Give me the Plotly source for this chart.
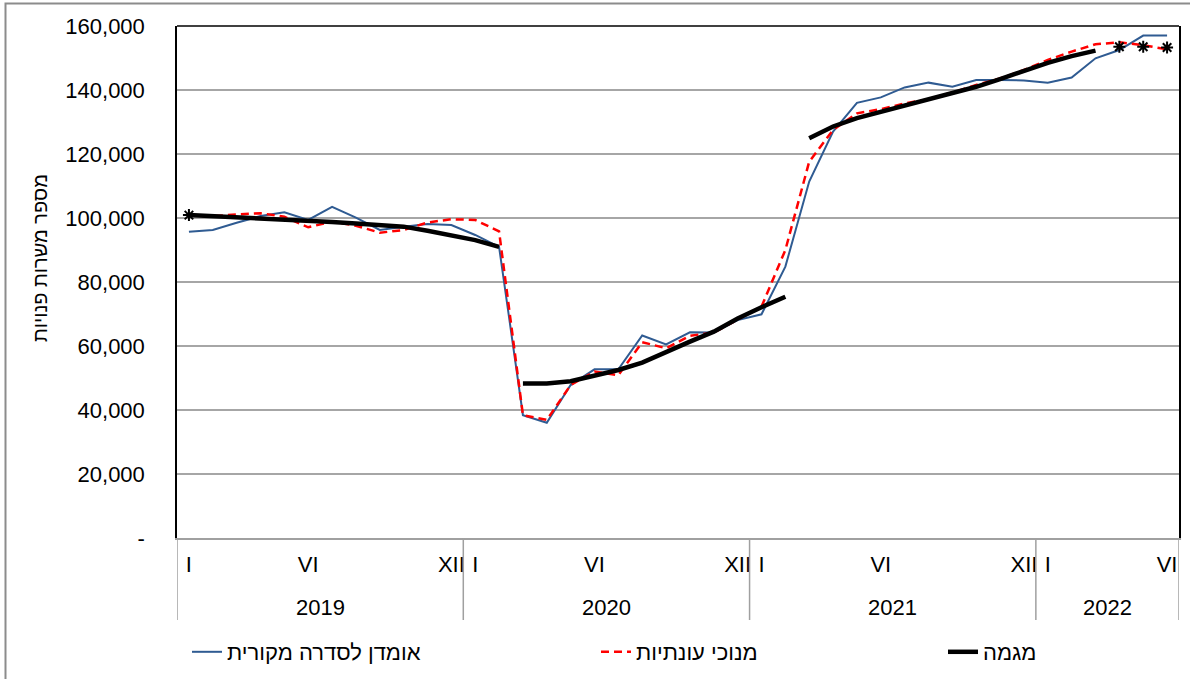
import plotly.graph_objects as go

# ---- data ----
years = ["2019", "2020", "2021", "2022"]
months_per_year = [12, 12, 12, 6]
month_names = ["I", "II", "III", "IV", "V", "VI", "VII", "VIII", "IX", "X", "XI", "XII"]
shown_months = ["I", "VI", "XII"]

original = [95700, 96250, 98500, 100600, 101800, 99400, 103500, 100100, 96250, 97300, 98100, 97800,
            94700, 91000, 38400, 36000, 47800, 52700, 52700, 63300, 60500, 64300, 64200, 68100,
            69900, 84800, 111400, 127000, 136000, 137700, 140800, 142300, 141000, 143100, 143100, 143000,
            142300, 143900, 149900, 152500, 157000, 157000]

seasonal = [100700, 100600, 101100, 101500, 100400, 97100, 98900, 97600, 95400, 96250, 98600, 99600,
            99400, 95800, 38400, 36900, 47800, 52000, 50900, 61200, 59300, 63200, 64200, 68300,
            72300, 90000, 117600, 127500, 132700, 134000, 135800, 137100, 139200, 141600, 143600, 146250,
            149400, 152000, 154300, 154900, 154000, 152700]

trend = [100900, 100600, 100200, 99900, 99600, 99300, 98750, 98300, 97800, 97300, 96000, 94700,
         93100, 91000, 48300, 48300, 49000, 50600, 52500, 54800, 57900, 61350, 64500, 68600,
         72100, 75400, 124900, 128600, 131200, 133200, 135100, 136900, 139000, 141000, 143400, 145900,
         148500, 150600, 152300, None, None, None]
trend_segment_starts = [0, 14, 26, 39]

trend_markers = [100900] + [None] * 38 + [153500, 153500, 153300]

y_ticks = [0, 20000, 40000, 60000, 80000, 100000, 120000, 140000, 160000]
y_ticktext = ["-", "20,000", "40,000", "60,000", "80,000", "100,000", "120,000", "140,000", "160,000"]

name_orig = "אומדן לסדרה מקורית"
name_sa = "מנוכי עונתיות"
name_trend = "מגמה"
y_title = "מספר משרות פנויות"

# ---- derived ----
x_idx = []
tickvals, ticktext = [], []
year_centers, year_bounds = [], [-0.5]
k = 0
for y, n in zip(years, months_per_year):
    start = k
    for m in range(n):
        x_idx.append(k)
        if month_names[m] in shown_months:
            tickvals.append(k)
            ticktext.append(month_names[m])
        k += 1
    year_centers.append((start + k - 1) / 2)
    year_bounds.append(k - 0.5)

FONT = "Liberation Sans, Arial, sans-serif"
fig = go.Figure()

fig.add_trace(go.Scatter(x=x_idx, y=original, mode="lines", name=name_orig,
                         line=dict(color="#2F5B92", width=2), legend="legend"))
fig.add_trace(go.Scatter(x=x_idx, y=seasonal, mode="lines", name=name_sa,
                         line=dict(color="#FF0000", width=2.5, dash="8px,5px"), legend="legend2"))
bounds = trend_segment_starts + [len(trend)]
for s in range(len(trend_segment_starts)):
    a, b = bounds[s], bounds[s + 1]
    fig.add_trace(go.Scatter(x=x_idx[a:b], y=trend[a:b], mode="lines", name=name_trend,
                             line=dict(color="#000000", width=4.5), legend="legend3",
                             legendgroup="trend", showlegend=(s == 0)))
fig.add_trace(go.Scatter(x=x_idx, y=trend_markers, mode="markers", showlegend=False,
                         marker=dict(symbol="asterisk-open", size=10, color="#000000",
                                     line=dict(color="#000000", width=2))))

W, H = 1190, 679
L, R, T, B = 177, 1179, 26, 538          # plot area in pixels
pw, ph = R - L, B - T

def px(sx):
    return (sx - L) / pw

def py(sy):
    return (B - sy) / ph

shapes = []
for xb in year_bounds:
    shapes.append(dict(type="line", xref="x", yref="paper", x0=xb, x1=xb, y0=0, y1=py(620),
                       line=dict(color="#A0A0A0", width=1.5)))
shapes.append(dict(type="line", xref="paper", yref="paper", x0=0, x1=1, y0=1, y1=1,
                   line=dict(color="#000000", width=1.5)))
shapes.append(dict(type="rect", xref="paper", yref="paper", x0=px(5.5), x1=px(1210), y0=py(3.5), y1=py(710),
                   line=dict(color="#8C8C8C", width=2), layer="below"))

annotations = []
for yname, xc in zip(years, year_centers):
    annotations.append(dict(x=xc, y=py(607), xref="x", yref="paper", text=yname, showarrow=False,
                            font=dict(family=FONT, size=22, color="#000000"),
                            xanchor="center", yanchor="middle"))
annotations.append(dict(x=px(40), y=py(258), xref="paper", yref="paper", text=y_title, showarrow=False,
                        textangle=-90, font=dict(family=FONT, size=20, color="#000000"),
                        xanchor="center", yanchor="middle"))

leg_common = dict(orientation="h", yanchor="middle", xanchor="left", bgcolor="rgba(0,0,0,0)",
                  font=dict(family=FONT, size=22, color="#000000"))

fig.update_layout(
    width=W, height=H,
    margin=dict(l=L, r=W - R, t=T, b=H - B, autoexpand=False),
    paper_bgcolor="white", plot_bgcolor="white",
    font=dict(family=FONT, size=22, color="#000000"),
    xaxis=dict(range=[-0.5, len(x_idx) - 0.5], tickmode="array", tickvals=tickvals, ticktext=ticktext,
               showgrid=False, zeroline=False, showline=True, linecolor="#A0A0A0", linewidth=1.5,
               ticks="", tickfont=dict(family=FONT, size=22), ticklabelstandoff=6),
    yaxis=dict(range=[0, 160000], tickmode="array", tickvals=y_ticks, ticktext=y_ticktext,
               showgrid=True, gridcolor="#A6A6A6", gridwidth=1.5, zeroline=False,
               showline=True, linecolor="#000000", linewidth=1.5, mirror=True,
               ticks="", tickfont=dict(family=FONT, size=22), ticklabelstandoff=26),
    legend=dict(x=px(187), y=py(652), **leg_common),
    legend2=dict(x=px(596), y=py(652), **leg_common),
    legend3=dict(x=px(943), y=py(652), **leg_common),
    shapes=shapes,
    annotations=annotations,
)

fig.write_html("out.html", config={"displayModeBar": False},
               post_script="document.body.style.margin='0';document.body.style.overflow='hidden';")
